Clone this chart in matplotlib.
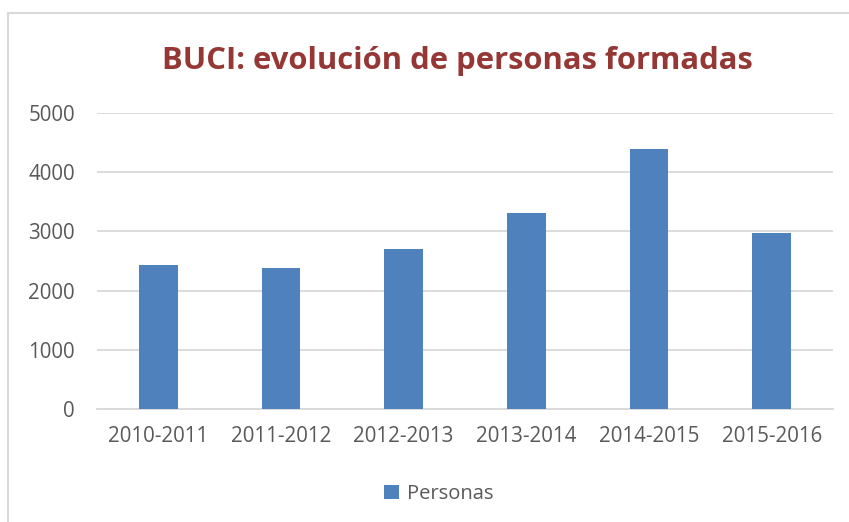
import matplotlib
matplotlib.use("Agg")
import matplotlib.pyplot as plt
from matplotlib.patches import Rectangle

# datos
cursos = ["2010-2011", "2011-2012", "2012-2013", "2013-2014", "2014-2015", "2015-2016"]
personas = [2430, 2385, 2710, 3310, 4390, 2980]
yticks = [0, 1000, 2000, 3000, 4000, 5000]

W, H = 849, 522
plt.rcParams['font.family'] = ['Open Sans', 'DejaVu Sans']

fig = plt.figure(figsize=(W / 100, H / 100), dpi=100)
fig.patch.set_facecolor('white')

# marco del area del grafico (estilo Excel)
fig.patches.append(Rectangle((8 / W, -0.1), 1.2, 1 - 13 / H + 0.1, transform=fig.transFigure,
                             fill=False, edgecolor='#D9D9D9', linewidth=1.5))

ax = fig.add_axes([97 / W, 1 - 409 / H, (833 - 97) / W, (409 - 113) / H])
x = range(len(cursos))
ax.bar(x, personas, width=0.315, color='#4F81BD', zorder=3, label='Personas')

ax.set_xlim(-0.5, len(cursos) - 0.5)
ax.set_ylim(0, 5000)
ax.set_yticks(yticks)
ax.set_xticks(list(x))
ax.set_xticklabels(cursos)
ax.grid(axis='y', color='#D9D9D9', linewidth=1.3, zorder=0)
for s in ['top', 'right', 'left']:
    ax.spines[s].set_visible(False)
ax.spines['bottom'].set_color('#D9D9D9')
ax.spines['bottom'].set_linewidth(1.3)
ax.tick_params(axis='both', length=0, labelsize=14.8, colors='#595959')
ax.tick_params(axis='y', pad=16)
ax.tick_params(axis='x', pad=12)

fig.text(457 / W, 1 - 69 / H, "BUCI: evolución de personas formadas", ha='center', va='baseline',
         fontsize=22.3, fontweight='bold', color='#953735')

fig.legend(loc='center', bbox_to_anchor=(439 / W, 1 - 494 / H), frameon=False,
           fontsize=14.5, labelcolor='#595959', handlelength=0.75, handleheight=0.75,
           handletextpad=0.4)

fig.savefig("out.png", dpi=100)
